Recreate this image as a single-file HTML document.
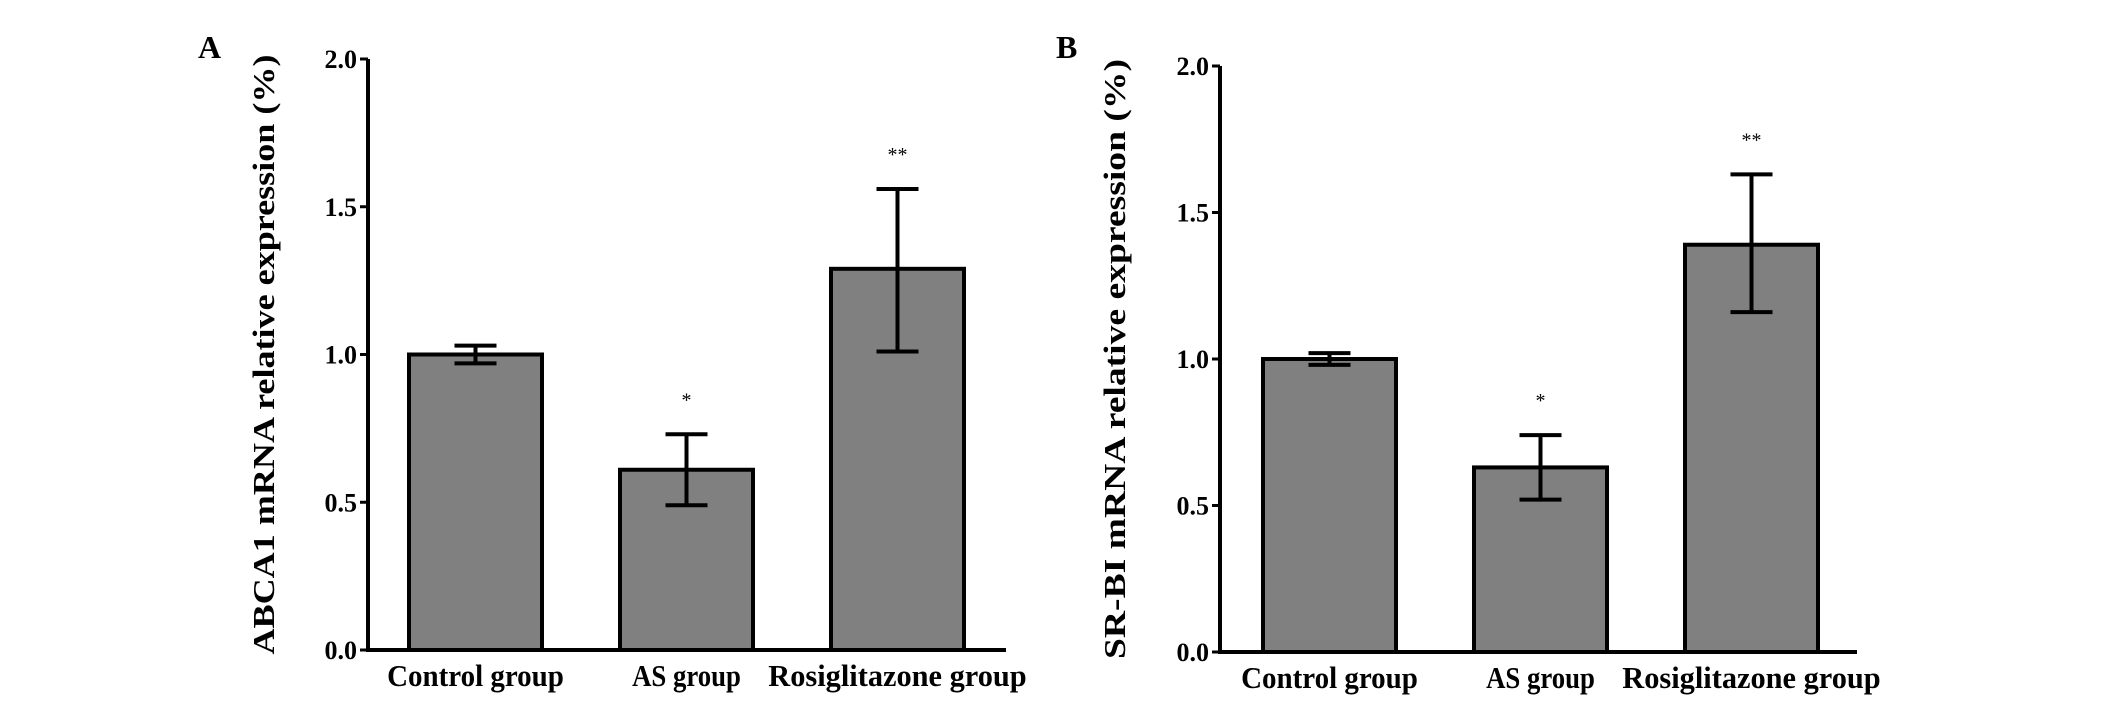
<!DOCTYPE html>
<html><head><meta charset="utf-8"><style>
html,body{margin:0;padding:0;background:#fff;}
svg{display:block;font-family:"Liberation Serif",serif;font-weight:bold;}
</style></head><body>
<svg id="fig" width="2126" height="710" viewBox="0 0 2126 710"></svg>
<script>
const categories = ["Control group","AS group","Rosiglitazone group"];
const valuesA = [1.0, 0.61, 1.29];
const errHiA = [1.03, 0.73, 1.56];
const errLoA = [0.97, 0.49, 1.01];
const sigA = ["", "*", "**"];
const valuesB = [1.0, 0.63, 1.39];
const errHiB = [1.02, 0.74, 1.63];
const errLoB = [0.98, 0.52, 1.16];
const sigB = ["", "*", "**"];
const yTicks = [0, 0.5, 1.0, 1.5, 2.0];
const yTickLabels = ["0.0","0.5","1.0","1.5","2.0"];

const NS = "http://www.w3.org/2000/svg";
const svg = document.getElementById('fig');
function mk(tag, attrs, parent){
  const e = document.createElementNS(NS, tag);
  for (const k in attrs) e.setAttribute(k, attrs[k]);
  (parent||svg).appendChild(e); return e;
}
function panel(cfg, vals, hi, lo, sig){
  const g = mk('g', {});
  
  
  const y = v => cfg.y0 - (v/2)*(cfg.y0-cfg.y2);
  const bx = i => cfg.bar0 + i*cfg.step;
  const L = mk('text', {x:cfg.letterX, y:58, 'font-size':32}, g); L.textContent = cfg.letter;
  
  
  const t = mk('text', {x:0, y:0, 'font-size':31, 'text-anchor':'middle', transform:`translate(${cfg.titleX},${(cfg.y0+cfg.y2)/2}) rotate(-90)`, textLength:600, lengthAdjust:'spacingAndGlyphs'}, g);
  t.textContent = cfg.title;
  
  
  vals.forEach((v,i)=>{
    const r = mk('rect', {x:bx(i), y:y(v), width:cfg.bw, height:cfg.y0-y(v), fill:'#808080', stroke:'#000', 'stroke-width':4}, g);
    
    
    const cx = bx(i)+cfg.bw/2;
    const eb = mk('path', {d:`M${cx} ${y(hi[i])}V${y(lo[i])}M${cx-21} ${y(hi[i])}H${cx+21}M${cx-21} ${y(lo[i])}H${cx+21}`, stroke:'#000', 'stroke-width':4, fill:'none'}, g);
    
    
    if (sig[i]) {
      const s = mk('text', {x:cx, y:y(hi[i])-28, 'font-size':20, 'text-anchor':'middle', 'font-weight':'normal'}, g);
      s.textContent = sig[i];
      
      
    }
    const c = mk('text', {x:cx, y:cfg.y0+36, 'font-size':31, 'text-anchor':'middle', textLength: categories[i].length*13.6, lengthAdjust:'spacingAndGlyphs'}, g);
    c.textContent = categories[i];
    
    
  });
  const ax = mk('path', {d:`M${cfg.ax} ${cfg.y2}V${cfg.y0}H${cfg.xEnd}`, stroke:'#000', 'stroke-width':4, fill:'none'}, g);
  
  
  yTicks.forEach((v,i)=>{
    const tk = mk('line', {x1:cfg.ax-8, x2:cfg.ax, y1:y(v), y2:y(v), stroke:'#000', 'stroke-width':3}, g);
    
    
    const lb = mk('text', {x:cfg.ax-11, y:y(v)+9, 'font-size':26, 'text-anchor':'end'}, g);
    lb.textContent = yTickLabels[i];
    
    
  });
}
panel({name:'panel-a', letter:'A', letterX:198, title:'ABCA1 mRNA relative expression (%)', titleX:274, ax:368, y0:650, y2:59, xEnd:1006, bar0:409, step:211, bw:133}, valuesA, errHiA, errLoA, sigA);
panel({name:'panel-b', letter:'B', letterX:1056, title:'SR-BI mRNA relative expression (%)', titleX:1125, ax:1220, y0:652, y2:66, xEnd:1857, bar0:1263, step:211, bw:133}, valuesB, errHiB, errLoB, sigB);
</script>
</body></html>
